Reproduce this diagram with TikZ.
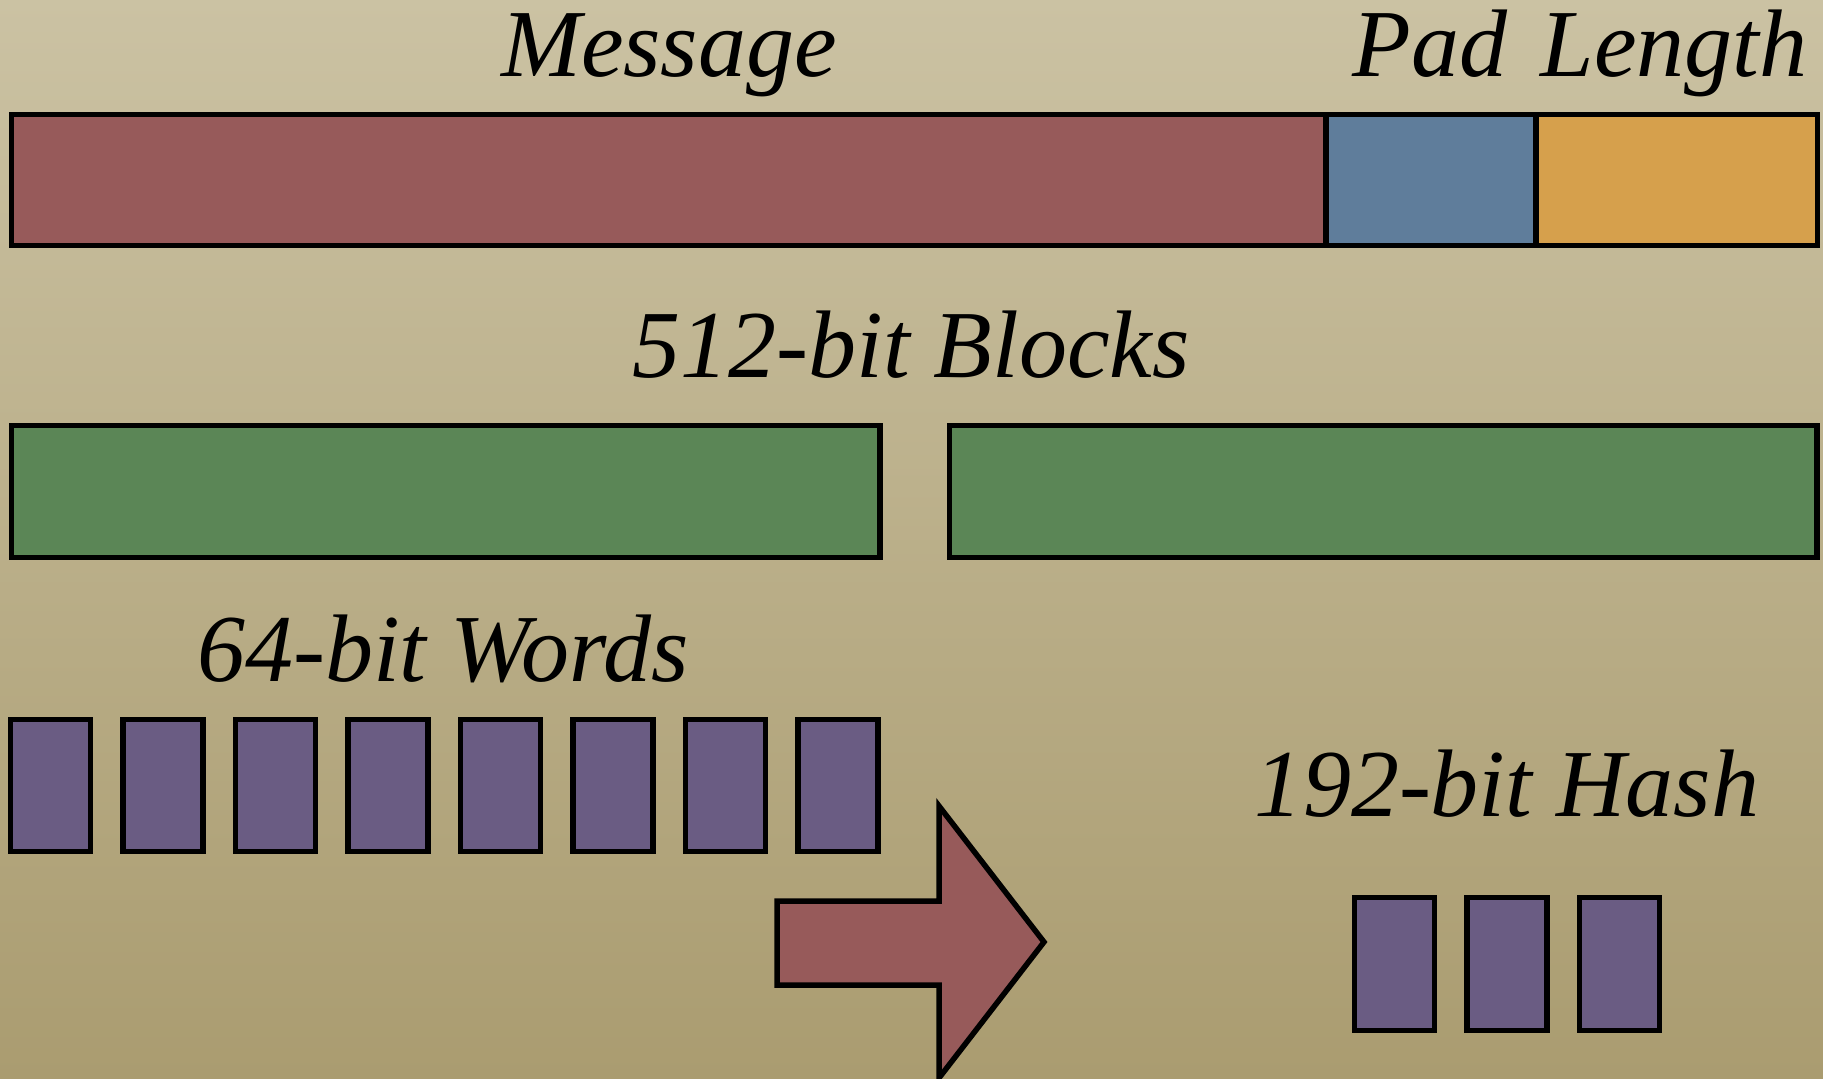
\documentclass[tikz,border=0pt]{standalone}
\usepackage{fontspec}
\setmainfont{Liberation Serif}
\definecolor{msgred}{RGB}{151,90,90}
\definecolor{padblue}{RGB}{95,125,155}
\definecolor{lenorange}{RGB}{214,160,76}
\definecolor{blkgreen}{RGB}{91,134,86}
\definecolor{wordpurple}{RGB}{106,92,131}
\definecolor{bgtop}{RGB}{203,194,163}
\definecolor{bgbot}{RGB}{170,156,112}
\begin{document}
\begin{tikzpicture}[x=0.01cm, y=-0.01cm,
    box/.style={draw=black, line width=0.055cm, inner sep=0pt, outer sep=0pt, anchor=north west},
    lab/.style={anchor=base, font=\fontsize{27.3}{32}\selectfont\itshape}]
        \shade[top color=bgtop, bottom color=bgbot] (0,0) rectangle (1823,1079);
        \useasboundingbox (0,0) rectangle (1823,1079);
        % padded message
        \node[box, fill=msgred, minimum width=13.135cm, minimum height=1.31cm] (msg) at (11.5,114.5) {};
        \node[box, fill=padblue, minimum width=2.10cm, minimum height=1.31cm] (pad) at (msg.north east) {};
        \node[box, fill=lenorange, minimum width=2.815cm, minimum height=1.31cm] (len) at (pad.north east) {};
        \node[lab] (msglab) at (669,77) {Message};
        \node[lab] (padlab) at (1430,77) {Pad};
        \node[lab] (lenlab) at (1674,77) {Length};
        % blocks
        \node[box, fill=blkgreen, minimum width=8.68cm, minimum height=1.32cm] (blk1) at (11.5,425.5) {};
        \node[box, fill=blkgreen, minimum width=8.67cm, minimum height=1.32cm] (blk2) at (949.5,425.5) {};
        \node[lab] (blklab) at (911,378) {512-bit Blocks};
        % words
        \foreach \i in {0,...,7} {
          \node[box, fill=wordpurple, minimum width=0.8cm, minimum height=1.32cm] (w\i) at (10.5+112.5*\i,719.5) {};
        }
        \node[lab] (wordlab) at (443,682) {64-bit Words};
        % hash
        \foreach \i in {0,1,2} {
          \node[box, fill=wordpurple, minimum width=0.8cm, minimum height=1.33cm] (h\i) at (1354.5+112.5*\i,897.5) {};
        }
        \node[lab] (hashlab) at (1507,816) {192-bit Hash};
        % arrow
        \draw[fill=msgred, line width=0.055cm, line join=miter]
          (777,901) -- (939,901) -- (939,806) -- (1044,942) -- (939,1078)
          -- (939,985) -- (777,985) -- cycle;
      \end{tikzpicture}
\end{document}
